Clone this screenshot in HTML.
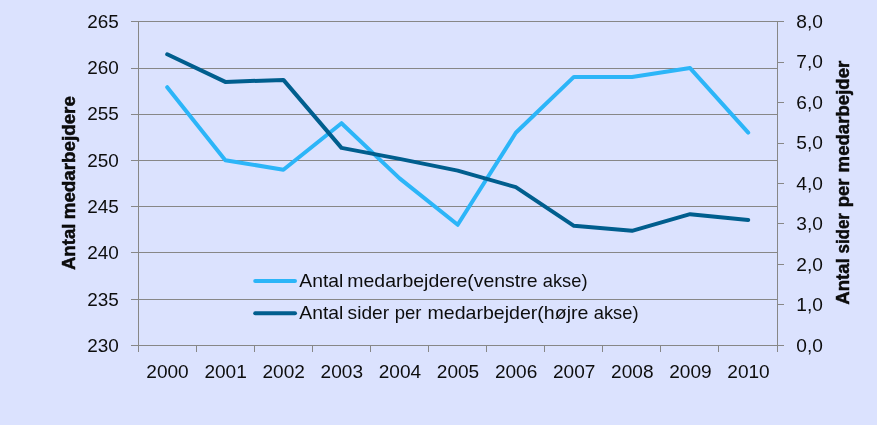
<!DOCTYPE html>
<html><head><meta charset="utf-8"><title>Chart</title>
<style>html,body{margin:0;padding:0;background:#dbe2fe;overflow:hidden;}svg{display:block;}text{font-family:"Liberation Sans",sans-serif;fill:#0d0d0d;}</style></head>
<body>
<svg width="877" height="425" viewBox="0 0 877 425">
<rect x="0" y="0" width="877" height="425" fill="#dbe2fe"/>
<g stroke="#878787" stroke-width="1" shape-rendering="crispEdges" fill="none">
<line x1="131.0" y1="21.5" x2="777.5" y2="21.5"/>
<line x1="131.0" y1="68.5" x2="777.5" y2="68.5"/>
<line x1="131.0" y1="114.5" x2="777.5" y2="114.5"/>
<line x1="131.0" y1="160.5" x2="777.5" y2="160.5"/>
<line x1="131.0" y1="206.5" x2="777.5" y2="206.5"/>
<line x1="131.0" y1="252.5" x2="777.5" y2="252.5"/>
<line x1="131.0" y1="299.5" x2="777.5" y2="299.5"/>
<line x1="131.0" y1="345.5" x2="777.5" y2="345.5"/>
<line x1="138.5" y1="21.5" x2="138.5" y2="351.5"/>
<line x1="777.5" y1="21.5" x2="777.5" y2="351.5"/>
<line x1="196.5" y1="345.5" x2="196.5" y2="351.5"/>
<line x1="254.5" y1="345.5" x2="254.5" y2="351.5"/>
<line x1="312.5" y1="345.5" x2="312.5" y2="351.5"/>
<line x1="370.5" y1="345.5" x2="370.5" y2="351.5"/>
<line x1="428.5" y1="345.5" x2="428.5" y2="351.5"/>
<line x1="486.5" y1="345.5" x2="486.5" y2="351.5"/>
<line x1="544.5" y1="345.5" x2="544.5" y2="351.5"/>
<line x1="602.5" y1="345.5" x2="602.5" y2="351.5"/>
<line x1="660.5" y1="345.5" x2="660.5" y2="351.5"/>
<line x1="718.5" y1="345.5" x2="718.5" y2="351.5"/>
<line x1="777.5" y1="345.5" x2="783.5" y2="345.5"/>
<line x1="777.5" y1="304.5" x2="783.5" y2="304.5"/>
<line x1="777.5" y1="264.5" x2="783.5" y2="264.5"/>
<line x1="777.5" y1="223.5" x2="783.5" y2="223.5"/>
<line x1="777.5" y1="183.5" x2="783.5" y2="183.5"/>
<line x1="777.5" y1="143.5" x2="783.5" y2="143.5"/>
<line x1="777.5" y1="102.5" x2="783.5" y2="102.5"/>
<line x1="777.5" y1="62.5" x2="783.5" y2="62.5"/>
<line x1="777.5" y1="21.5" x2="783.5" y2="21.5"/>
</g>
<polyline points="167.2,87.2 225.3,160.2 283.4,169.7 341.5,123.2 399.6,178.4 457.7,224.8 515.8,132.8 573.9,76.9 632.0,76.9 690.1,68.1 748.2,132.6" fill="none" stroke="#2cb5f8" stroke-width="4" stroke-linecap="round" stroke-linejoin="round"/>
<polyline points="167.2,54.3 225.3,81.9 283.4,79.9 341.5,147.9 399.6,158.9 457.7,170.6 515.8,187.2 573.9,225.8 632.0,230.8 690.1,214.2 748.2,220.0" fill="none" stroke="#005e8e" stroke-width="4" stroke-linecap="round" stroke-linejoin="round"/>
<g style="opacity:0.999">
<text x="118.9" y="27.8" font-size="18.5" text-anchor="end" textLength="31.6" lengthAdjust="spacingAndGlyphs">265</text>
<text x="118.9" y="74.1" font-size="18.5" text-anchor="end" textLength="31.6" lengthAdjust="spacingAndGlyphs">260</text>
<text x="118.9" y="120.4" font-size="18.5" text-anchor="end" textLength="31.6" lengthAdjust="spacingAndGlyphs">255</text>
<text x="118.9" y="166.7" font-size="18.5" text-anchor="end" textLength="31.6" lengthAdjust="spacingAndGlyphs">250</text>
<text x="118.9" y="212.9" font-size="18.5" text-anchor="end" textLength="31.6" lengthAdjust="spacingAndGlyphs">245</text>
<text x="118.9" y="259.2" font-size="18.5" text-anchor="end" textLength="31.6" lengthAdjust="spacingAndGlyphs">240</text>
<text x="118.9" y="305.5" font-size="18.5" text-anchor="end" textLength="31.6" lengthAdjust="spacingAndGlyphs">235</text>
<text x="118.9" y="351.8" font-size="18.5" text-anchor="end" textLength="31.6" lengthAdjust="spacingAndGlyphs">230</text>
<text x="796.3" y="351.7" font-size="18.5" textLength="26.6" lengthAdjust="spacingAndGlyphs">0,0</text>
<text x="796.3" y="311.2" font-size="18.5" textLength="26.6" lengthAdjust="spacingAndGlyphs">1,0</text>
<text x="796.3" y="270.7" font-size="18.5" textLength="26.6" lengthAdjust="spacingAndGlyphs">2,0</text>
<text x="796.3" y="230.2" font-size="18.5" textLength="26.6" lengthAdjust="spacingAndGlyphs">3,0</text>
<text x="796.3" y="189.7" font-size="18.5" textLength="26.6" lengthAdjust="spacingAndGlyphs">4,0</text>
<text x="796.3" y="149.2" font-size="18.5" textLength="26.6" lengthAdjust="spacingAndGlyphs">5,0</text>
<text x="796.3" y="108.7" font-size="18.5" textLength="26.6" lengthAdjust="spacingAndGlyphs">6,0</text>
<text x="796.3" y="68.2" font-size="18.5" textLength="26.6" lengthAdjust="spacingAndGlyphs">7,0</text>
<text x="796.3" y="27.7" font-size="18.5" textLength="26.6" lengthAdjust="spacingAndGlyphs">8,0</text>
<text x="167.5" y="378.2" font-size="18.5" text-anchor="middle" textLength="42.4" lengthAdjust="spacingAndGlyphs">2000</text>
<text x="225.6" y="378.2" font-size="18.5" text-anchor="middle" textLength="42.4" lengthAdjust="spacingAndGlyphs">2001</text>
<text x="283.7" y="378.2" font-size="18.5" text-anchor="middle" textLength="42.4" lengthAdjust="spacingAndGlyphs">2002</text>
<text x="341.8" y="378.2" font-size="18.5" text-anchor="middle" textLength="42.4" lengthAdjust="spacingAndGlyphs">2003</text>
<text x="399.9" y="378.2" font-size="18.5" text-anchor="middle" textLength="42.4" lengthAdjust="spacingAndGlyphs">2004</text>
<text x="458.0" y="378.2" font-size="18.5" text-anchor="middle" textLength="42.4" lengthAdjust="spacingAndGlyphs">2005</text>
<text x="516.1" y="378.2" font-size="18.5" text-anchor="middle" textLength="42.4" lengthAdjust="spacingAndGlyphs">2006</text>
<text x="574.2" y="378.2" font-size="18.5" text-anchor="middle" textLength="42.4" lengthAdjust="spacingAndGlyphs">2007</text>
<text x="632.3" y="378.2" font-size="18.5" text-anchor="middle" textLength="42.4" lengthAdjust="spacingAndGlyphs">2008</text>
<text x="690.4" y="378.2" font-size="18.5" text-anchor="middle" textLength="42.4" lengthAdjust="spacingAndGlyphs">2009</text>
<text x="748.5" y="378.2" font-size="18.5" text-anchor="middle" textLength="42.4" lengthAdjust="spacingAndGlyphs">2010</text>
<line x1="255.2" y1="281.1" x2="295" y2="281.1" stroke="#2cb5f8" stroke-width="4" stroke-linecap="round"/>
<line x1="255.2" y1="313.3" x2="295" y2="313.3" stroke="#005e8e" stroke-width="4" stroke-linecap="round"/>
<text x="299.34" y="286.9" font-size="19" textLength="44.05" lengthAdjust="spacingAndGlyphs">Antal</text>
<text x="347.35" y="286.9" font-size="19" textLength="190.17" lengthAdjust="spacingAndGlyphs">medarbejdere(venstre</text>
<text x="542.87" y="286.9" font-size="19" textLength="44.61" lengthAdjust="spacingAndGlyphs">akse)</text>
<text x="299.34" y="318.8" font-size="19" textLength="44.05" lengthAdjust="spacingAndGlyphs">Antal</text>
<text x="347.61" y="318.8" font-size="19" textLength="41.54" lengthAdjust="spacingAndGlyphs">sider</text>
<text x="394.72" y="318.8" font-size="19" textLength="26.75" lengthAdjust="spacingAndGlyphs">per</text>
<text x="427.47" y="318.8" font-size="19" textLength="160.95" lengthAdjust="spacingAndGlyphs">medarbejder(højre</text>
<text x="593.77" y="318.8" font-size="19" textLength="44.77" lengthAdjust="spacingAndGlyphs">akse)</text>
<text transform="translate(75.0,270.06) rotate(-90)" font-size="18.2" font-weight="bold" fill="#000" stroke="#000" stroke-width="0.45" textLength="46.47" lengthAdjust="spacingAndGlyphs">Antal</text>
<text transform="translate(75.0,219.30) rotate(-90)" font-size="18.2" font-weight="bold" fill="#000" stroke="#000" stroke-width="0.45" textLength="123.18" lengthAdjust="spacingAndGlyphs">medarbejdere</text>
<text transform="translate(848.8,304.74) rotate(-90)" font-size="18.2" font-weight="bold" fill="#000" stroke="#000" stroke-width="0.45" textLength="46.57" lengthAdjust="spacingAndGlyphs">Antal</text>
<text transform="translate(848.8,253.38) rotate(-90)" font-size="18.2" font-weight="bold" fill="#000" stroke="#000" stroke-width="0.45" textLength="40.22" lengthAdjust="spacingAndGlyphs">sider</text>
<text transform="translate(848.8,207.30) rotate(-90)" font-size="18.2" font-weight="bold" fill="#000" stroke="#000" stroke-width="0.45" textLength="28.71" lengthAdjust="spacingAndGlyphs">per</text>
<text transform="translate(848.8,172.40) rotate(-90)" font-size="18.2" font-weight="bold" fill="#000" stroke="#000" stroke-width="0.45" textLength="111.66" lengthAdjust="spacingAndGlyphs">medarbejder</text>
</g>
</svg>
</body></html>
